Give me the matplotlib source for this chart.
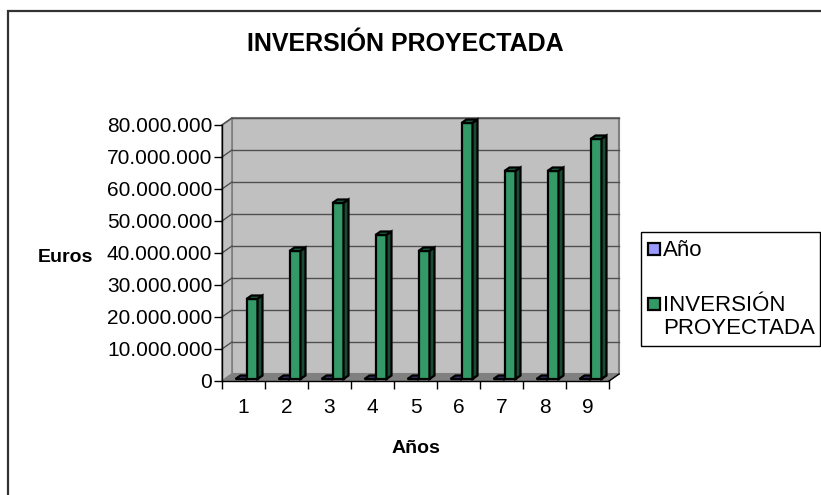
import matplotlib
matplotlib.use("Agg")
import matplotlib.pyplot as plt
from matplotlib.patches import Polygon, Rectangle

# data
anos = [1, 2, 3, 4, 5, 6, 7, 8, 9]
serie_ano = [1, 2, 3, 4, 5, 6, 7, 8, 9]
inversion = [25e6, 40e6, 55e6, 45e6, 40e6, 80e6, 65e6, 65e6, 75e6]
y_ticks = [0, 10e6, 20e6, 30e6, 40e6, 50e6, 60e6, 70e6, 80e6]
y_labels = ["0", "10.000.000", "20.000.000", "30.000.000", "40.000.000",
            "50.000.000", "60.000.000", "70.000.000", "80.000.000"]

plt.rcParams['font.family'] = ['Liberation Sans', 'DejaVu Sans']

W, H = 821, 495
fig = plt.figure(figsize=(W / 100, H / 100), dpi=100)

# front plane of the 3d plot, in pixels
L, R, B, T = 222, 609, 381, 125
ax = fig.add_axes([L / W, 1 - B / H, (R - L) / W, (B - T) / H])
xmin, xmax = 0.5, 9.5
ymin, ymax = 0, 80e6
ax.set_xlim(xmin, xmax)
ax.set_ylim(ymin, ymax)
ax.set_facecolor('none')

px_x = (xmax - xmin) / (R - L)
px_y = (ymax - ymin) / (B - T)

# depth of the box, bar placement
dX, dY = 10 * px_x, 7 * px_y
fX, fY = 3 * px_x, 2 * px_y
bX, bY = 5 * px_x, 3.5 * px_y
w = 11 * px_x


def poly(pts, fc, ec, lw, z):
    ax.add_patch(Polygon(pts, closed=True, facecolor=fc, edgecolor=ec,
                         linewidth=lw, zorder=z, clip_on=False))


# walls and floor
poly([(xmin + dX, dY), (xmax + dX, dY), (xmax + dX, ymax + dY), (xmin + dX, ymax + dY)],
     '#C0C0C0', '#808080', 1.5, 1)
poly([(xmin, 0), (xmin + dX, dY), (xmin + dX, ymax + dY), (xmin, ymax)],
     '#C0C0C0', '#808080', 1.2, 1)
poly([(xmin, 0), (xmax, 0), (xmax + dX, dY), (xmin + dX, dY)],
     '#808080', '#808080', 1, 2)

# gridlines on back wall and side wall
for v in y_ticks[1:]:
    ax.plot([xmin + dX, xmax + dX], [v + dY, v + dY], color='#505050', lw=1,
            zorder=1.5, clip_on=False)
    ax.plot([xmin, xmin + dX], [v, v + dY], color='#505050', lw=1,
            zorder=1.5, clip_on=False)

ax.plot([xmax, xmax + dX], [0, dY], color='black', lw=1, zorder=2.5, clip_on=False)


def bar3d(xc, h, front, top, side, z):
    x0 = xc - w / 2
    x1 = xc + w / 2
    ax.bar(xc, h, width=w, bottom=fY, color=front, edgecolor='black',
           linewidth=1.6, zorder=z, clip_on=False)
    poly([(x0, h + fY), (x1, h + fY), (x1 + bX, h + fY + bY), (x0 + bX, h + fY + bY)],
         top, 'black', 1.6, z)
    poly([(x1, fY), (x1 + bX, fY + bY), (x1 + bX, h + fY + bY), (x1, h + fY)],
         side, 'black', 1.6, z)


for i, a in enumerate(anos):
    bar3d(a - w / 2 + fX, serie_ano[i], '#9999FF', '#333366', '#333366', 3 + i * 0.1)
    bar3d(a + w / 2 + fX, inversion[i], '#339966', '#1E5C3C', '#1A4A33', 3.05 + i * 0.1)

# axes
for s in ['top', 'right']:
    ax.spines[s].set_visible(False)
ax.spines['left'].set_linewidth(1)
ax.spines['bottom'].set_linewidth(1)
ax.spines['left'].set_zorder(2.6)
ax.spines['bottom'].set_zorder(2.6)
ax.set_yticks(y_ticks)
ax.set_yticklabels(y_labels, fontsize=15)
ax.tick_params(axis='y', direction='out', length=6, width=1, pad=1)
ax.set_xticks(anos)
ax.set_xticklabels([str(a) for a in anos], fontsize=15)
ax.set_xticks([x + 0.5 for x in [0] + anos], minor=True)
ax.tick_params(axis='x', which='major', length=0, pad=12)
ax.tick_params(axis='x', which='minor', direction='out', length=6, width=1)

# titles
fig.text(405 / W, 1 - 51 / H, 'INVERSIÓN PROYECTADA', fontsize=18, fontweight='bold',
         ha='center', va='baseline')
fig.text(93 / W, 1 - 262 / H, 'Euros', fontsize=14, fontweight='bold',
         ha='right', va='baseline')
fig.text(416 / W, 1 - 453 / H, 'Años', fontsize=14, fontweight='bold',
         ha='center', va='baseline')

# outer frame of the chart area
fig.patches.append(Rectangle((8 / W, -0.1), 1.2, 1.1 - 11 / H, transform=fig.transFigure,
                             fill=False, edgecolor='#333333', linewidth=1.6))

# legend
fig.patches.append(Rectangle((641 / W, 1 - 346 / H), (820 - 641) / W, (346 - 232) / H,
                             transform=fig.transFigure, facecolor='white',
                             edgecolor='black', linewidth=1))
legend_items = [('Año', '#9999FF', 249), ('INVERSIÓN\nPROYECTADA', '#339966', 304)]
for label, col, yc in legend_items:
    fig.patches.append(Rectangle((648 / W, 1 - (yc + 6) / H), 12 / W, 12 / H,
                                 transform=fig.transFigure, facecolor=col,
                                 edgecolor='black', linewidth=1.6))
    fig.text(663 / W, 1 - (yc - 9) / H, label, fontsize=16, ha='left', va='top',
             linespacing=1.15)

fig.savefig('out.png', dpi=100)
